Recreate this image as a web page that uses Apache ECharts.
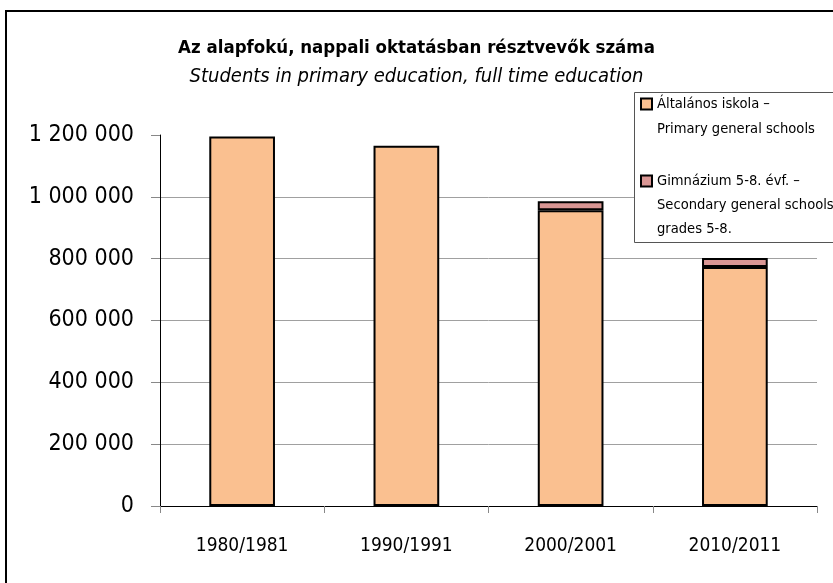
<!DOCTYPE html>
<html>
<head>
<meta charset="utf-8">
<script src="https://cdn.jsdelivr.net/npm/echarts@6/dist/echarts.min.js"></script>
<style>
  html, body { margin: 0; padding: 0; background: #fff; }
  #chart { width: 833px; height: 583px; }
</style>
</head>
<body>
<div id="chart"></div>
<script>
// school years
var categories = ['1980/1981', '1990/1991', '2000/2001', '2010/2011'];
// Általános iskola - primary general schools
var primaryValues = [1195000, 1165000, 957000, 773000];
// Gimnázium 5-8. évf. (only from 2000 on)
var gymnasiumValues = [null, null, 29000, 29000];
var yTicks = { min: 0, max: 1200000, interval: 200000 };

var seriesNames = ['Általános iskola – Primary general schools', 'Gimnázium 5-8. évf. – Secondary general schools grades 5-8.'];
// blank lines on top keep the square level with the first line of text
var legendLines = [
  ' \nÁltalános iskola –\nPrimary general schools',
  ' \n \nGimnázium 5-8. évf. –\nSecondary general schools\ngrades 5-8.'
];

var font = "'Liberation Sans Narrow', 'DejaVu Sans Condensed', 'Arial Narrow', sans-serif";
var orange = '#FAC090';
var pink = '#D99694';

function spaced(v) {
  return String(v).replace(/\B(?=(\d{3})+(?!\d))/g, ' ');
}

var myChart = echarts.init(document.getElementById('chart'));
var option = {
  backgroundColor: '#fff',
  animation: false,
  title: {
    text: 'Az alapfokú, nappali oktatásban résztvevők száma',
    subtext: 'Students in primary education, full time education',
    left: 'center',
    top: 34,
    itemGap: 9,
    textStyle: { fontFamily: font, fontSize: 18.5, fontWeight: 'bold', color: '#000' },
    subtextStyle: { fontFamily: font, fontSize: 20, fontStyle: 'italic', color: '#000' }
  },
  graphic: [
    {
      type: 'rect', z: 0, silent: true,
      shape: { x: 6, y: 11, width: 900, height: 700 },
      style: { fill: 'none', stroke: '#000', lineWidth: 2 }
    },
    {
      type: 'rect', z: 50, silent: true,
      shape: { x: 634.5, y: 92.5, width: 260, height: 150 },
      style: { fill: '#fff', stroke: '#555', lineWidth: 1 }
    }
  ],
  legend: [
    {
      orient: 'vertical', left: 640, top: 66.5, z: 60, padding: 0,
      icon: 'rect', itemWidth: 11, itemHeight: 11, itemGap: 0,
      data: [{ name: seriesNames[0] }],
      formatter: function () { return legendLines[0]; },
      textStyle: { fontFamily: font, fontSize: 14.6, lineHeight: 25, color: '#000' }
    },
    {
      orient: 'vertical', left: 640, top: 121, z: 60, padding: 0,
      icon: 'rect', itemWidth: 11, itemHeight: 11, itemGap: 0,
      data: [{ name: seriesNames[1] }],
      formatter: function () { return legendLines[1]; },
      textStyle: { fontFamily: font, fontSize: 14.6, lineHeight: 24, color: '#000' }
    }
  ],
  grid: { left: 160, right: 16, top: 135, bottom: 77 },
  xAxis: {
    type: 'category',
    data: categories,
    axisLine: { lineStyle: { color: '#000', width: 1 } },
    axisTick: { show: true, length: 7, lineStyle: { color: '#888' } },
    axisLabel: { fontFamily: font, fontSize: 19, color: '#000', margin: 31 }
  },
  yAxis: {
    type: 'value',
    min: yTicks.min,
    max: yTicks.max,
    interval: yTicks.interval,
    axisLine: { show: true, lineStyle: { color: '#000', width: 1 } },
    axisTick: { show: true, length: 9, lineStyle: { color: '#888' } },
    splitLine: { show: true, showMaxLine: false, lineStyle: { color: '#A0A0A0', width: 1 } },
    axisLabel: {
      fontFamily: font, fontSize: 23, color: '#000', margin: 26,
      formatter: function (v) { return spaced(v); }
    }
  },
  series: [
    {
      name: seriesNames[0],
      type: 'bar',
      stack: 'total',
      barWidth: '40%',
      data: primaryValues,
      itemStyle: { color: orange, borderColor: '#000', borderWidth: 2 }
    },
    {
      name: seriesNames[1],
      type: 'bar',
      stack: 'total',
      barWidth: '40%',
      data: gymnasiumValues,
      itemStyle: { color: pink, borderColor: '#000', borderWidth: 2 }
    }
  ]
};
myChart.setOption(option);
</script>
</body>
</html>
